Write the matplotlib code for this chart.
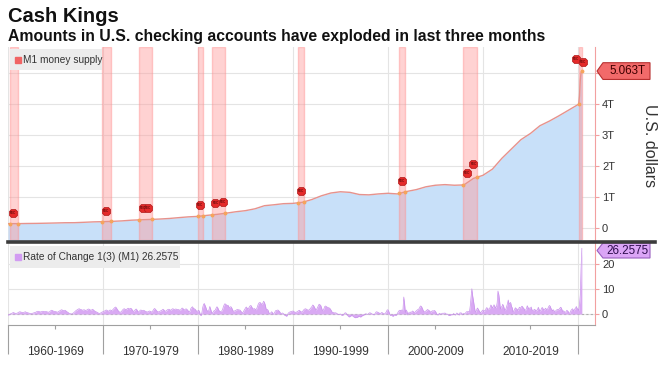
import matplotlib
matplotlib.use('Agg')
import matplotlib.pyplot as plt
import numpy as np
from matplotlib.patches import Polygon, Rectangle
from matplotlib.lines import Line2D

plt.rcParams['font.family'] = ['Liberation Sans', 'DejaVu Sans']

# M1 money supply, trillions of US$ (January of each year, then 2020 monthly)
m1_years = list(range(1960, 2020))
m1_annual = [0.140, 0.141, 0.146, 0.149, 0.155, 0.162, 0.170, 0.172, 0.184, 0.198,
             0.205, 0.215, 0.230, 0.252, 0.265, 0.276, 0.290, 0.308, 0.335, 0.360,
             0.375, 0.410, 0.440, 0.480, 0.525, 0.560, 0.620, 0.720, 0.750, 0.785,
             0.795, 0.830, 0.920, 1.040, 1.130, 1.170, 1.150, 1.080, 1.070, 1.100,
             1.120, 1.100, 1.180, 1.240, 1.330, 1.380, 1.400, 1.380, 1.390, 1.600,
             1.700, 1.900, 2.250, 2.550, 2.850, 3.050, 3.300, 3.450, 3.620, 3.800]
m1_2020 = [3.98, 4.00, 4.26, 4.77, 5.02, 5.063]

# 3-month rate of change of M1 (%), monthly, one row per year
roc_rows = [
    [-0.5, -0.3, -0.2, 0.0, 0.2, 0.3, 0.5, 0.6, 0.4, 0.3, 0.2, 0.3],
    [0.4, 0.6, 0.8, 0.9, 0.8, 0.7, 0.6, 0.5, 0.6, 0.8, 0.9, 0.7],
    [0.6, 0.5, 0.4, 0.3, 0.2, 0.1, 0.2, 0.3, 0.4, 0.5, 0.6, 0.7],
    [0.9, 1.0, 1.1, 1.0, 0.9, 0.8, 0.9, 1.0, 1.1, 1.0, 0.9, 1.0],
    [1.0, 0.9, 0.8, 0.7, 0.8, 1.0, 1.3, 1.5, 1.4, 1.2, 1.1, 1.0],
    [1.0, 0.9, 0.7, 0.8, 1.0, 1.2, 1.4, 1.6, 1.7, 1.5, 1.3, 1.4],
    [1.5, 1.3, 1.0, 0.8, 0.6, 0.3, 0.2, 0.1, 0.0, 0.1, 0.3, 0.5],
    [0.8, 1.1, 1.4, 1.6, 1.8, 2.0, 2.1, 1.9, 1.8, 1.7, 1.5, 1.6],
    [1.7, 1.6, 1.4, 1.5, 1.7, 1.9, 2.0, 1.8, 1.6, 1.5, 1.7, 1.9],
    [1.6, 1.3, 1.1, 0.9, 0.8, 0.6, 0.4, 0.3, 0.2, 0.4, 0.6, 0.8],
    [0.9, 1.0, 1.2, 1.4, 1.6, 1.5, 1.2, 1.1, 1.4, 1.6, 1.5, 1.3],
    [1.6, 1.9, 2.3, 2.6, 2.8, 2.4, 1.9, 1.4, 1.0, 0.8, 0.7, 0.9],
    [1.3, 1.7, 2.0, 2.1, 1.9, 1.7, 1.9, 2.2, 2.3, 2.1, 2.0, 2.3],
    [2.1, 1.6, 1.2, 1.0, 1.4, 1.8, 2.0, 1.6, 1.0, 0.8, 1.1, 1.5],
    [1.6, 1.4, 1.3, 1.5, 1.4, 1.2, 1.0, 0.9, 0.8, 0.9, 1.1, 1.2],
    [1.0, 0.8, 0.9, 1.3, 1.8, 2.2, 2.0, 1.6, 1.2, 0.9, 0.8, 1.0],
    [1.1, 1.3, 1.4, 1.7, 1.9, 1.6, 1.2, 1.1, 1.3, 1.6, 1.8, 1.9],
    [1.8, 1.6, 1.5, 1.9, 2.1, 2.0, 1.8, 1.9, 2.0, 1.9, 1.7, 1.8],
    [1.7, 1.5, 1.6, 2.0, 2.4, 2.2, 1.8, 1.6, 1.9, 2.1, 1.8, 1.6],
    [1.0, 0.8, 1.2, 2.2, 2.6, 2.9, 2.4, 2.1, 2.0, 1.7, 1.2, 1.0],
    [1.3, 1.5, 0.9, -0.4, -0.6, 0.6, 2.6, 3.8, 4.2, 3.4, 2.6, 1.6],
    [1.2, 0.9, 1.8, 3.0, 2.0, 0.9, 0.2, 0.7, 1.2, 1.4, 1.6, 2.4],
    [2.9, 2.5, 1.7, 1.2, 1.0, 1.0, 1.2, 1.7, 2.8, 3.6, 4.1, 3.9],
    [3.6, 3.4, 3.5, 2.8, 2.6, 2.9, 2.8, 2.2, 1.4, 1.1, 1.2, 1.3],
    [1.5, 1.7, 1.8, 1.7, 1.6, 1.6, 1.2, 0.8, 0.6, 0.7, 1.3, 1.8],
    [2.4, 2.8, 2.4, 2.0, 2.3, 2.9, 3.3, 3.4, 2.8, 2.2, 1.9, 2.2],
    [2.0, 1.7, 2.0, 2.8, 3.8, 4.4, 4.6, 4.5, 4.0, 3.8, 4.4, 5.1],
    [4.6, 3.6, 2.1, 1.6, 1.8, 1.1, 0.2, 0.3, 0.4, 0.9, 0.6, -0.2],
    [0.2, 0.7, 1.3, 1.4, 1.5, 1.6, 1.3, 1.0, 0.5, 0.2, 0.3, 0.4],
    [0.1, -0.3, -0.6, -0.7, -0.9, -0.4, 0.3, 0.6, 0.8, 0.9, 1.0, 1.1],
    [1.2, 1.0, 0.8, 0.7, 0.6, 0.9, 1.0, 1.3, 1.5, 1.2, 0.9, 0.8],
    [1.0, 1.4, 1.8, 2.0, 2.1, 1.9, 1.7, 1.6, 1.5, 1.8, 2.2, 2.6],
    [3.0, 3.6, 3.4, 2.8, 2.2, 1.6, 1.9, 2.6, 3.3, 3.9, 3.7, 3.5],
    [2.6, 1.6, 1.3, 2.0, 2.9, 3.2, 3.0, 2.8, 2.6, 2.5, 2.4, 2.1],
    [1.6, 1.0, 0.6, 0.6, 0.5, 0.4, 0.5, 0.3, 0.1, -0.1, -0.2, -0.1],
    [0.0, -0.3, -0.6, -0.4, -0.3, 0.2, 0.5, 0.4, -0.2, -0.6, -0.9, -1.2],
    [-1.0, -0.8, -0.6, -0.7, -0.9, -1.2, -1.4, -1.5, -1.3, -1.4, -1.2, -0.9],
    [-0.9, -1.2, -1.1, -0.8, -0.6, -0.5, -0.3, -0.1, 0.1, 0.0, -0.2, 0.0],
    [0.3, 0.5, 0.4, 0.2, 0.0, -0.1, -0.3, -0.2, 0.3, 0.8, 0.9, 0.7],
    [0.6, 0.4, 0.0, 0.3, 0.6, 0.5, 0.2, 0.0, 0.1, 0.4, 0.9, 1.6],
    [1.7, 1.1, 0.2, -0.6, -0.4, -0.5, -0.9, -0.8, -0.3, -0.4, -0.6, -0.3],
    [0.2, 0.9, 1.3, 1.5, 1.3, 1.6, 1.3, 1.8, 6.8, 4.2, 0.5, 1.6],
    [1.1, -0.4, 0.5, 0.2, 0.8, 0.6, 0.8, 1.2, 1.0, 0.6, 0.7, 1.0],
    [1.3, 1.6, 1.8, 2.0, 2.5, 3.2, 3.1, 2.6, 1.8, 1.1, 0.8, 1.0],
    [1.2, 1.5, 1.8, 1.6, 1.4, 1.0, 0.8, 0.9, 1.3, 1.2, 1.3, 1.4],
    [1.0, 0.5, -0.2, -0.4, -0.1, 0.3, 0.1, -0.2, 0.2, 0.3, 0.3, 0.3],
    [0.4, 0.2, -0.1, 0.0, -0.3, -0.6, -0.6, -0.4, -0.3, -0.3, -0.2, 0.2],
    [-0.2, -0.4, -0.1, 0.4, 0.2, -0.1, -0.4, 0.5, 0.4, 0.4, -0.3, 0.1],
    [0.2, 0.0, 0.4, 0.8, 1.0, 0.8, 1.0, 0.9, 3.2, 6.5, 10.1, 7.3],
    [5.4, 3.2, 1.3, 0.8, 1.6, 2.4, 2.0, 1.4, 0.9, 0.5, 0.8, 1.3],
    [1.6, 0.9, 1.4, 1.3, 2.2, 2.6, 1.8, 1.9, 2.2, 2.5, 3.6, 3.2],
    [2.4, 2.9, 3.7, 3.1, 2.5, 2.8, 4.5, 9.2, 7.8, 5.4, 1.9, 2.8],
    [2.9, 3.9, 3.2, 2.1, 1.4, 2.0, 3.1, 4.1, 5.6, 3.8, 4.4, 4.6],
    [3.1, 2.5, 0.9, 1.2, 1.9, 2.5, 2.1, 2.0, 1.4, 1.9, 2.7, 2.5],
    [2.4, 3.1, 3.0, 2.4, 2.1, 1.4, 1.6, 2.2, 3.3, 2.6, 2.1, 2.4],
    [2.3, 2.8, 1.6, 1.4, 1.5, 1.9, 1.7, 1.2, 1.5, 1.8, 2.7, 1.8],
    [1.2, 1.4, 2.3, 2.6, 2.1, 1.6, 1.8, 2.3, 2.0, 1.6, 2.2, 2.9],
    [3.4, 3.1, 2.2, 1.8, 1.2, 1.7, 1.2, 0.9, 1.3, 1.6, 1.8, 1.7],
    [1.9, 2.2, 2.7, 2.5, 1.6, 0.9, 1.3, 0.8, 0.7, 0.9, 1.5, 1.2],
    [0.9, 0.3, 0.4, 1.3, 1.7, 2.1, 1.7, 1.2, 2.0, 2.3, 3.0, 2.2],
    [1.9, 1.4, 3.8, 7.6, 18.4, 26.2575],
]

# NBER recessions (start, end)
recessions = [('1960-04', '1961-02'), ('1969-12', '1970-11'), ('1973-11', '1975-03'),
              ('1980-01', '1980-07'), ('1981-07', '1982-11'), ('1990-07', '1991-03'),
              ('2001-03', '2001-11'), ('2007-12', '2009-06'), ('2020-02', '2020-06')]
# "REC" event markers: date, height (trillions)
rec_dates = ['1960-07', '1970-05', '1974-03', '1974-10', '1980-03', '1981-11', '1982-08',
             '1990-11', '2001-07', '2008-05', '2009-01', '2019-11', '2020-07']
rec_heights = [0.48, 0.56, 0.65, 0.65, 0.74, 0.81, 0.84, 1.19, 1.52, 1.77, 2.06, 5.45, 5.35]

decades = ['1960-1969', '1970-1979', '1980-1989', '1990-1999', '2000-2009', '2010-2019']


def ym(s):
    y, m = s.split('-')
    return int(y) + (int(m) - 1) / 12.0


m1_t = np.array(m1_years + [2020 + i / 12.0 for i in range(len(m1_2020))])
m1_v = np.array(m1_annual + m1_2020)
roc_v = np.concatenate([np.array(r, dtype=float) for r in roc_rows])
roc_t = 1960 + np.arange(len(roc_v)) / 12.0

W, H = 672, 373
fig = plt.figure(figsize=(W / 100, H / 100), dpi=100)
L, R = 8 / W, 595 / W
ax1 = fig.add_axes([L, 1 - 240 / H, R - L, (240 - 47) / H])
ax2 = fig.add_axes([L, 1 - 325 / H, R - L, (325 - 243) / H])

xlim = (1960.0, 2021.8)
edges = np.arange(1960, 2021, 10)
grid_c = '#e4e4e4'
axis_c = '#f2a0a0'

# ---- top panel: M1 ----
ax1.fill_between(m1_t, -1, m1_v, color='#c8e0f9', lw=0, zorder=1)
ax1.plot(m1_t, m1_v, color='#e7928c', lw=1.0, zorder=4)
for s, e in recessions:
    ax1.axvspan(ym(s), ym(e), facecolor='#ff9c9c', alpha=0.45, edgecolor='#ff9090', lw=1.0, zorder=3)
    for d in (ym(s), ym(e)):
        ax1.plot(d, np.interp(d, m1_t, m1_v), 'o', ms=1.8, color='#f5a45c', zorder=5)
rx = [ym(d) for d in rec_dates]
ax1.plot(rx, rec_heights, linestyle='none', marker='8', ms=6.8, mfc='#e42a2a', mec='#b01818',
         mew=0.5, zorder=6)
for x, y in zip(rx, rec_heights):
    ax1.text(x, y, 'REC', fontsize=2.2, color='#300000', ha='center', va='center', zorder=7)

ax1.set_xlim(*xlim)
ax1.set_ylim(-0.387, 5.84)
ax1.set_xticks(edges)
ax1.set_yticks([0, 1, 2, 3, 4, 5])
ax1.set_yticklabels(['0', '1T', '2T', '3T', '4T', ''])
ax1.grid(True, color=grid_c, lw=0.8, zorder=0)
ax1.set_axisbelow(True)
ax1.yaxis.tick_right()
ax1.tick_params(axis='x', length=0, labelbottom=False)
ax1.tick_params(axis='y', length=3, color=axis_c, labelsize=8, labelcolor='#333333', pad=2)
for sp in ['left', 'top', 'bottom']:
    ax1.spines[sp].set_visible(False)
ax1.spines['right'].set_color(axis_c)

ax1.text(1.092, 0.49, 'U.S. dollars', transform=ax1.transAxes, rotation=270,
         ha='center', va='center', fontsize=11.5, color='#333333')

# legend box
ax1.add_patch(Rectangle((0.0034, 0.881), 0.157, 0.109, transform=ax1.transAxes,
                        facecolor='#ececec', edgecolor='none', zorder=8))
ax1.plot([0.0165], [0.935], 's', ms=4.5, color='#f06464', transform=ax1.transAxes, zorder=9)
ax1.text(0.026, 0.935, 'M1 money supply', transform=ax1.transAxes, fontsize=7.3,
         va='center', ha='left', color='#333333', zorder=9)

# ---- bottom panel: rate of change ----
ax2.axhline(0, color='#b0b0b0', lw=0.8, ls=(0, (2, 2)), zorder=1)
ax2.fill_between(roc_t, 0, roc_v, color='#d9a9f3', lw=0, zorder=2)
ax2.plot(roc_t, roc_v, color='#c993ec', lw=0.5, zorder=3)
ax2.set_xlim(*xlim)
ax2.set_ylim(-4.4, 28.4)
ax2.set_yticks([0, 10, 20])
ax2.yaxis.tick_right()
ax2.tick_params(axis='y', length=3, color=axis_c, labelsize=8, labelcolor='#333333', pad=2)
ax2.set_xticks(edges)
ax2.set_xticklabels([])
ax2.set_xticks(edges[:-1] + 5, minor=True)
ax2.set_xticklabels(decades, minor=True)
ax2.tick_params(axis='x', which='major', length=21, color='#a0a0a0', width=0.8)
ax2.tick_params(axis='x', which='minor', length=3, color='#a0a0a0', width=0.8, pad=12,
                labelsize=8.6, labelcolor='#333333')
ax2.grid(True, which='major', color=grid_c, lw=0.8, zorder=0)
ax2.set_axisbelow(True)
for sp in ['left', 'top']:
    ax2.spines[sp].set_visible(False)
ax2.spines['right'].set_color(axis_c)
ax2.spines['bottom'].set_color('#a0a0a0')

ax2.add_patch(Rectangle((0.0034, 0.695), 0.29, 0.268, transform=ax2.transAxes,
                        facecolor='#ececec', edgecolor='none', zorder=8))
ax2.plot([0.0165], [0.829], 's', ms=4.5, color='#d29cf2', transform=ax2.transAxes, zorder=9)
ax2.text(0.026, 0.829, 'Rate of Change 1(3) (M1) %.4f' % roc_v[-1], transform=ax2.transAxes,
         fontsize=7.3, va='center', ha='left', color='#333333', zorder=9)


def tag(ax, yval, h, text, fc, ec, tc):
    x0, x1, x2 = 1.0034, 1.0136, 1.0937
    pts = [(x0, yval), (x1, yval + h), (x2, yval + h), (x2, yval - h), (x1, yval - h)]
    tr = ax.get_yaxis_transform()
    ax.add_patch(Polygon(pts, closed=True, transform=tr, facecolor=fc, edgecolor=ec,
                         lw=0.8, clip_on=False, zorder=10))
    ax.text((x1 + x2) / 2 + 0.001, yval, text, transform=tr, ha='center', va='center',
            fontsize=8.4, color=tc, clip_on=False, zorder=11)


tag(ax1, m1_v[-1], 0.27, '%.3fT' % m1_v[-1], '#f26a6a', '#b83030', '#400000')
tag(ax2, min(roc_v[-1], 28.4 - 3.0), 3.0, '%.4f' % roc_v[-1], '#dba5f6', '#9a60c0', '#2e0c4e')

# separator line between panels
fig.add_artist(Line2D([8 / W, 655 / W], [1 - 241.5 / H] * 2, color='#3c3c3c', lw=2.6))

fig.text(8 / W, 1 - 17 / H, 'Cash Kings', fontsize=14.5, fontweight='bold', va='center',
         ha='left', color='#111111')
fig.text(8 / W, 1 - 36 / H, 'Amounts in U.S. checking accounts have exploded in last three months',
         fontsize=11.3, fontweight='bold', va='center', ha='left', color='#111111')

fig.savefig('out.png', dpi=100)
